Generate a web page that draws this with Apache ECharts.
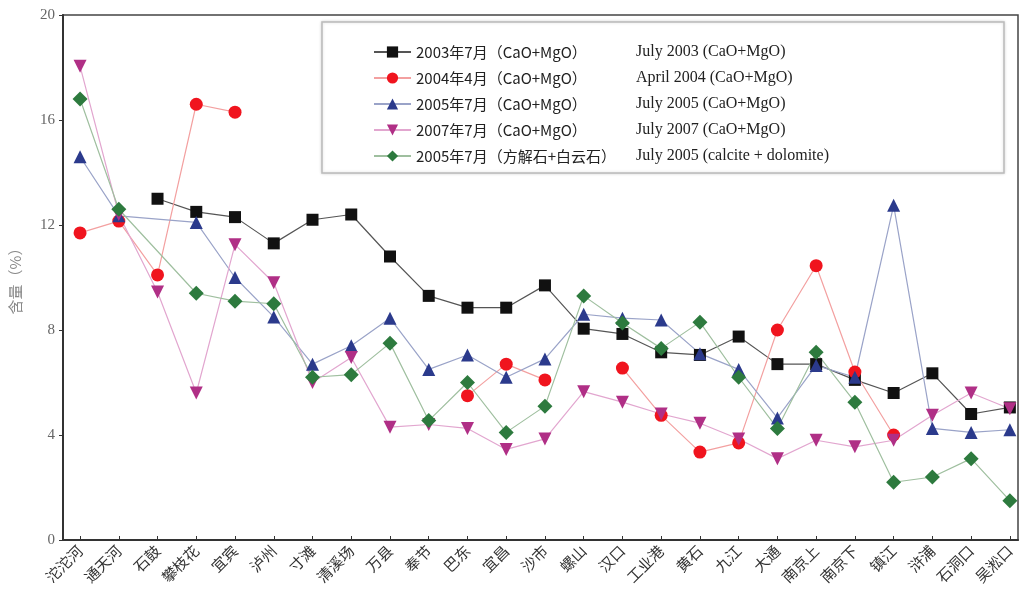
<!DOCTYPE html>
<html><head><meta charset="utf-8">
<script src="https://cdn.jsdelivr.net/npm/echarts@6/dist/echarts.min.js"></script>
<style>html,body{margin:0;padding:0;background:#fff}#c{width:1020px;height:614px}</style>
</head><body><div id="c"></div>
<script>
const categories = ['沱沱河','通天河','石鼓','攀枝花','宜宾','泸州','寸滩','清溪场','万县','奉节','巴东','宜昌','沙市','螺山','汉口','工业港','黄石','九江','大通','南京上','南京下','镇江','浒浦','石洞口','吴淞口'];
const yTicks = [0,4,8,12,16,20];
const black2003 = [null,null,13.0,12.5,12.3,11.3,12.2,12.4,10.8,9.3,8.85,8.85,9.7,8.05,7.85,7.15,7.05,7.75,6.7,6.7,6.1,5.6,6.35,4.8,5.05];
const red2004 = [11.7,12.15,10.1,16.6,16.3,null,null,null,null,null,5.5,6.7,6.1,null,6.55,4.75,3.35,3.7,8.0,10.45,6.4,4.0,null,null,null];
const blue2005 = [14.6,12.35,null,12.1,10.0,8.5,6.7,7.4,8.45,6.5,7.05,6.2,6.9,8.6,8.45,8.38,7.1,6.5,4.65,6.65,6.2,12.75,4.25,4.1,4.2];
const magenta2007 = [18.05,12.4,9.45,5.6,11.25,9.8,6.0,6.95,4.3,4.4,4.25,3.45,3.85,5.65,5.25,4.8,4.45,3.85,3.1,3.8,3.55,3.8,4.75,5.6,5.0];
const green2005 = [16.8,12.6,null,9.4,9.1,9.0,6.2,6.3,7.5,4.55,6.0,4.1,5.1,9.3,8.27,7.3,8.3,6.2,4.25,7.15,5.25,2.2,2.4,3.1,1.5];
const namesCN = ['2003年7月（CaO+MgO）','2004年4月（CaO+MgO）','2005年7月（CaO+MgO）','2007年7月（CaO+MgO）','2005年7月（方解石+白云石）'];
const namesEN = ['July 2003 (CaO+MgO)','April 2004 (CaO+MgO)','July 2005 (CaO+MgO)','July 2007 (CaO+MgO)','July 2005 (calcite + dolomite)'];

const serif = '"Liberation Serif","DejaVu Serif",serif';
const cjk = '"Noto Sans CJK SC","Liberation Serif",serif';

function pairs(arr){ return arr.map((v,i)=>[i,v]); }

const styles = [
  {data:black2003, symbol:'rect', size:12, color:'#111111', line:'#555555', rot:0, connect:false},
  {data:red2004, symbol:'circle', size:13, color:'#f0141e', line:'#f3a0a0', rot:0, connect:false},
  {data:blue2005, symbol:'triangle', size:13, color:'#2b3a8c', line:'#9aa3c8', rot:0, connect:true},
  {data:magenta2007, symbol:'triangle', size:13, color:'#b02f86', line:'#e2a6cf', rot:180, connect:false},
  {data:green2005, symbol:'diamond', size:15, color:'#2d7a3e', line:'#9fbf9f', rot:0, connect:true}
];

const series = styles.map((s,k)=>({
  name: namesCN[k],
  type:'line',
  data: pairs(s.data),
  symbol: s.symbol,
  symbolSize: s.size,
  symbolRotate: s.rot,
  connectNulls: s.connect,
  showAllSymbol: true,
  itemStyle:{color:s.color},
  lineStyle:{color:s.line, width:1.2},
  emphasis:{disabled:true},
  animation:false
}));

const enMap = {};
namesCN.forEach((n,i)=>enMap[n]=namesEN[i]);

const chart = echarts.init(document.getElementById('c'));
chart.setOption({
  backgroundColor:'#ffffff',
  animation:false,
  grid:{left:63, right:2, top:15, bottom:74, show:true, borderColor:'#444', borderWidth:1.5, backgroundColor:'transparent'},
  xAxis:{
    type:'value', min:-0.44, max:24.21,
    splitLine:{show:false},
    axisLine:{show:true, onZero:false, lineStyle:{color:'#333', width:2}},
    axisTick:{show:true, inside:true, length:4, customValues: categories.map((c,i)=>i), lineStyle:{color:'#333'}},
    axisLabel:{show:true, customValues: categories.map((c,i)=>i), rotate:45, margin:8,
      formatter:(v)=>categories[Math.round(v)] || '', fontFamily:cjk, fontSize:15, color:'#333'}
  },
  yAxis:{
    type:'value', min:0, max:20, interval:4,
    name:'含量（%）', nameLocation:'middle', nameGap:40, nameRotate:90,
    nameTextStyle:{fontFamily:cjk, fontSize:15, color:'#888'},
    splitLine:{show:false},
    axisLine:{show:true, onZero:false, lineStyle:{color:'#333', width:2}},
    axisTick:{show:true, inside:false, length:4, lineStyle:{color:'#333'}},
    axisLabel:{fontFamily:serif, fontSize:15, color:'#666', margin:8}
  },
  legend:{
    show:true, left:322, top:22, orient:'vertical',
    padding:[22,175,9,51],
    itemWidth:37, itemHeight:14, itemGap:10,
    backgroundColor:'#ffffff', borderColor:'#bbbbbb', borderWidth:1.5,
    shadowColor:'rgba(0,0,0,0.15)', shadowBlur:3,
    data: namesCN,
    formatter:(n)=>'{a|'+n+'}{b|'+enMap[n]+'}',
    textStyle:{
      rich:{
        a:{width:220, fontFamily:cjk, fontSize:15, color:'#222', lineHeight:16},
        b:{fontFamily:serif, fontSize:16, color:'#222', lineHeight:16}
      }
    }
  },
  series: series
});
</script></body></html>
